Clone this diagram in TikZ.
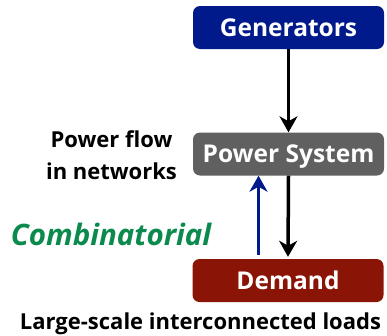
\documentclass[tikz,border=0pt]{standalone}
\usepackage{fontspec}
\setmainfont{Open Sans}
\usetikzlibrary{arrows.meta}
\definecolor{genblue}{HTML}{001A8C}
\definecolor{sysgray}{HTML}{606060}
\definecolor{demred}{HTML}{8A1506}
\definecolor{combgreen}{HTML}{0B8A4E}
\tikzset{
  block/.style={rounded corners=7pt, minimum width=191pt, minimum height=43pt,
    text=white, font=\bfseries\fontsize{24.5}{28}\selectfont, inner sep=0pt,
    text height=17.5pt, text depth=0pt},
  flow/.style={line width=3.5pt, -{Stealth[length=16pt,width=18pt,inset=5pt]}},
  note/.style={font=\bfseries\fontsize{22}{32}\selectfont, align=center}
}
\begin{document}
\begin{tikzpicture}[x=1pt,y=-1pt]
  \useasboundingbox (0,0) rectangle (387,335);
  % the three blocks of the chain
  \node[block, fill=genblue] (gen) at (288.5,27.5) {Generators};
  \node[block, fill=sysgray] (sys) at (288.5,154) {Power System};
  \node[block, fill=demred] (dem) at (288,280.5) {Demand};
  % downward flow
  \draw[flow] (gen.south) -- (sys.north);
  \draw[flow] (sys.south) -- ([yshift=2pt]dem.north);
  % upward (blue) link
  \coordinate (upx) at (258.5,0);
  \coordinate (up0) at ([yshift=4pt]dem.north -| upx);
  \coordinate (up1) at (sys.south -| upx);
  \draw[flow, draw=genblue, fill=genblue] (up0) -- (up1);
  % labels
  \node[note] (pf) at (111.5,155) {Power flow\\in networks};
  \node[anchor=base, font=\bfseries\itshape\fontsize{29.5}{32}\selectfont, text=combgreen] (comb) at (111,245) {Combinatorial};
  \node[anchor=base, font=\bfseries\fontsize{22}{26}\selectfont] (loads) at (200.5,329) {Large-scale interconnected loads};
\end{tikzpicture}
\end{document}
